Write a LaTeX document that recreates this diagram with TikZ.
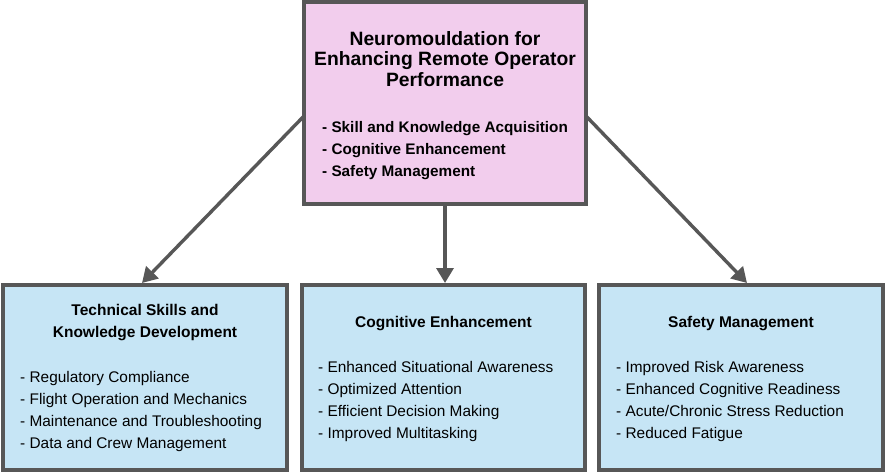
\documentclass[tikz,border=0pt]{standalone}
\usepackage{fontspec}
\setmainfont{Liberation Sans}
\usetikzlibrary{arrows.meta,positioning}
\definecolor{boxpink}{HTML}{F2CDED}
\definecolor{boxblue}{HTML}{C6E5F5}
\definecolor{boxline}{HTML}{575757}

\begin{document}
\begin{tikzpicture}
                [x=1pt,y=-1pt,
                 box/.style={rectangle,draw=boxline,line width=3.6pt,inner sep=0pt,outer sep=0pt},
                 goal/.style={box,fill=boxpink,minimum width=282pt,minimum height=202pt},
                 area/.style={box,fill=boxblue,minimum width=284pt,minimum height=185pt},
                 head/.style={inner sep=0pt,align=center,font=\fontsize{15.5}{22}\selectfont\bfseries},
                 items/.style={inner sep=0pt,align=left,font=\fontsize{15.4}{22}\selectfont},
                 post/.style={-{Triangle[length=15pt,width=17pt]},line width=3.4pt,draw=boxline}]

                \useasboundingbox (0,0) rectangle (886,473);

                \node[goal] (top box) at (445,103) {};
                \node[head,font=\fontsize{19.3}{20.5}\selectfont\bfseries,below=28.9pt of top box.north] (top title)
                    {Neuromouldation for\\Enhancing Remote Operator\\Performance};
                \node[items,font=\fontsize{15.3}{22}\selectfont\bfseries,below right=118.8pt and 18pt of top box.north west] (top list)
                    {- Skill and Knowledge Acquisition\\- Cognitive Enhancement\\- Safety Management};

                \node[area] (skills box) at (145,377.5) {};
                \node[head,below=18.7pt of skills box.north] (skills title)
                    {Technical Skills and\\Knowledge Development};
                \node[items,below right=85.8pt and 17pt of skills box.north west] (skills list)
                    {- Regulatory Compliance\\- Flight Operation and Mechanics\\- Maintenance and Troubleshooting\\- Data and Crew Management};

                \node[area,minimum width=283pt] (cognition box) at (443.5,377.5) {};
                \node[head,below=30.7pt of cognition box.north] (cognition title) {Cognitive Enhancement};
                \node[items,below right=75.8pt and 16pt of cognition box.north west] (cognition list)
                    {- Enhanced Situational Awareness\\- Optimized Attention\\- Efficient Decision Making\\- Improved Multitasking};

                \node[area] (safety box) at (741,377.5) {};
                \node[head,below=30.7pt of safety box.north] (safety title) {Safety Management};
                \node[items,below right=75.8pt and 17pt of safety box.north west] (safety list)
                    {- Improved Risk Awareness\\- Enhanced Cognitive Readiness\\- Acute/Chronic Stress Reduction\\- Reduced Fatigue};

                \draw[post] ([yshift=-13pt]top box.west) -- ([xshift=-3pt,yshift=2pt]skills box.north);
                \draw[post] (top box.south) -- ([yshift=2pt]top box.south |- cognition box.north);
                \draw[post] ([yshift=-13pt]top box.east) -- ([xshift=6pt,yshift=2pt]safety box.north);

            \end{tikzpicture}
\end{document}
